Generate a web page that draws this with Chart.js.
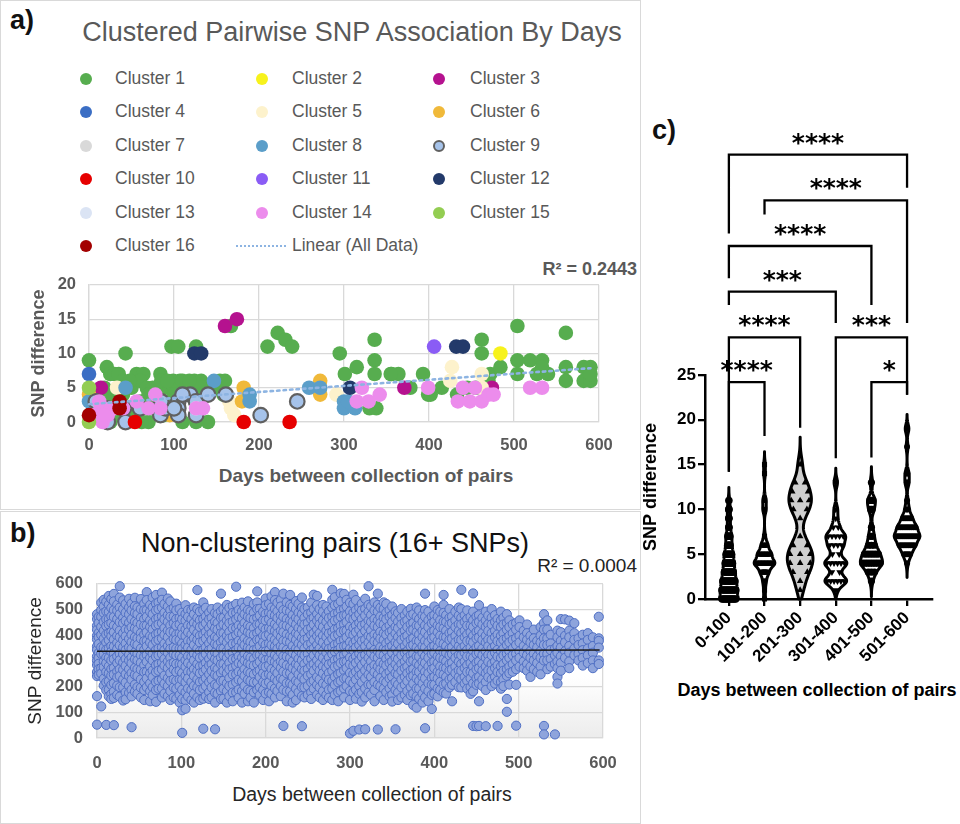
<!DOCTYPE html>
<html><head><meta charset="utf-8">
<script src="https://cdn.jsdelivr.net/npm/chart.js@4.4.1/dist/chart.umd.min.js"></script>
<style>
html,body{margin:0;padding:0;background:#fff}
body{position:relative;width:960px;height:824px;overflow:hidden;font-family:'Liberation Sans',Arial,sans-serif}
.t{position:absolute;white-space:nowrap;line-height:1}
.c{transform:translate(-50%,-50%)}
canvas{position:absolute}
.box{position:absolute;border:1px solid #d9d9d9;box-sizing:border-box}
.lm{position:absolute;width:12px;height:12px;border-radius:50%;box-sizing:border-box;transform:translate(-50%,-50%)}
</style></head><body>
<div class="box" style="left:0;top:0;width:641px;height:510px"></div>
<div class="box" style="left:0;top:511px;width:641px;height:313px"></div>
<div class="t" style="left:10px;top:7px;font-weight:bold;font-size:27px;color:#111">a)</div>
<div class="t c" style="left:352px;top:32px;font-size:27px;color:#595959">Clustered Pairwise SNP Association By Days</div>
<div id="legendA"></div>
<div class="t" style="left:637px;top:260px;font-size:18px;font-weight:bold;color:#595959;transform:translateX(-100%)">R² = 0.2443</div>
<div class="t c" style="left:366px;top:475px;font-size:19px;font-weight:bold;color:#595959">Days between collection of pairs</div>
<div class="t" style="left:10px;top:520px;font-weight:bold;font-size:27px;color:#111">b)</div>
<div class="t c" style="left:335px;top:543px;font-size:27px;color:#111">Non-clustering pairs (16+ SNPs)</div>
<div class="t" style="left:637px;top:556px;font-size:19px;color:#222;transform:translateX(-100%)">R² = 0.0004</div>
<div class="t c" style="left:372px;top:795px;font-size:19.5px;color:#262626">Days between collection of pairs</div>
<div class="t" style="left:652px;top:117px;font-weight:bold;font-size:27px;color:#111">c)</div>
<div class="t c" style="left:817px;top:690px;font-size:18px;font-weight:bold;color:#000">Days between collection of pairs</div>
<canvas id="chartA" width="640" height="225" style="left:0;top:262px"></canvas>
<canvas id="chartB" width="640" height="248" style="left:0;top:560px"></canvas>
<canvas id="chartC" width="320" height="602" style="left:640px;top:100px"></canvas>
<script>
// ---------- Panel a data ----------
const clusterNames = ['Cluster 1','Cluster 2','Cluster 3','Cluster 4','Cluster 5','Cluster 6','Cluster 7','Cluster 8','Cluster 9','Cluster 10','Cluster 11','Cluster 12','Cluster 13','Cluster 14','Cluster 15','Cluster 16'];
const clusterColors = ['#57ad4f','#f7f21c','#b5128f','#3b6ec4','#fdf2cc','#f0b93a','#d9d9d9','#5b9ec9','#a6c3ea','#e60000','#8a5cf5','#233a6a','#dbe4f4','#ec8cec','#93cd52','#a30000'];
const clusterPoints = [
 [[0,9],[21,8],[25,7],[30,7],[35,7],[43,10],[56,7],[64,7],[84,7],[97,11],[105,11],[126,11],[99,6],[107,6],[124,6],[132,6],[154,6],[167,14],[210,11],[222,13],[231,12],[239,11],[295,10],[301,7],[315,8],[336,12],[336,9],[336,7],[356,7],[364,7],[378,5],[393,7],[399,4],[415,5],[462,12],[462,10],[472,7],[484,8],[504,14],[504,9],[519,9],[533,9],[504,7],[527,7],[540,7],[533,8],[561,13],[561,8],[561,6],[582,8],[590,8],[582,6],[590,6],[590,7],[330,2],[338,2],[126,0],[70,0],[433,4],[445,5],[10,4],[18,5],[28,4],[40,4],[50,5],[60,6],[68,5],[75,5],[90,5],[100,5],[112,5],[120,5],[135,5],[145,5],[150,5],[158,4],[5,2],[15,1],[25,0],[35,1],[45,0],[55,1],[62,0],[75,2],[88,1],[95,3],[110,0],[115,4],[130,4],[140,0],[60,3],[50,2],[30,3],[70,4],[80,3],[100,4],[160,6],[128,5],[122,4],[85,6],[92,6],[110,6],[118,6],[40,6],[48,6],[65,2],[20,3],[455,5],[470,6],[402,4],[355,7]],
 [[484,10]],
 [[14,5],[160,14],[174,15],[371,5],[474,5]],
 [[0,7]],
 [[33,5],[167,2],[171,1],[165,3],[291,4],[425,6],[427,8],[462,7],[462,5]],
 [[0,4],[95,1],[182,5],[180,3],[272,6],[272,4]],
 [[21,2],[105,2]],
 [[0,3],[43,5],[147,6],[189,4],[189,3],[259,5],[272,5],[300,3],[300,2],[313,2],[305,3]],
 [[8,3],[21,2],[41,2],[43,0],[84,1],[105,3],[105,2],[105,1],[119,4],[126,3],[140,4],[161,4],[202,1],[245,3],[126,1],[22,0],[60,2],[90,2],[100,2],[110,4],[85,3]],
 [[54,0],[182,0],[236,0]],
 [[406,11]],
 [[124,10],[132,10],[307,5],[432,11],[440,11]],
 [[14,2],[126,2]],
 [[14,2],[16,0],[22,1],[10,1],[30,2],[56,3],[70,2],[78,4],[84,2],[126,2],[134,2],[321,5],[342,4],[315,3],[329,3],[399,5],[440,5],[454,5],[434,3],[448,3],[462,3],[470,4],[476,4],[519,5],[533,5],[6,1],[12,3],[26,2],[18,1],[40,2]],
 [[0,5],[0,0]],
 [[0,1],[36,3],[36,2]]
];
const trendA = {intercept:2.6, slope:0.0089, fromDay:0, toDay:590};
const xTicksA = [0,100,200,300,400,500,600];
const yTicksA = [0,5,10,15,20];

// ---------- Panel b data ----------
const ncDays = [0,2,5,8,11,14,17,20,24,27,31,34,38,41,45,48,52,56,59,63,66,70,73,77,80,84,87,91,94,98,101,105,108,112,115,119,122,126,129,133,136,140,143,147,150,154,157,161,165,168,172,175,179,182,186,190,193,197,200,204,207,211,214,218,221,225,229,232,236,239,243,246,250,254,257,261,264,268,272,275,279,282,286,289,293,296,300,304,307,311,314,318,322,325,329,333,336,340,343,347,350,354,357,361,365,368,372,375,379,382,386,389,393,397,400,404,407,411,414,418,421,425,429,432,436,439,443,446,450,453,457,461,464,468,472,475,479,482,486,489,493,497,501,506,510,514,518,522,526,530,534,538,543,546,550,555,560,566,571,576,582,588,595];
const ncSNPs = [
[482,463,437,421,398,384,357,343,318,301,284,257,241,163,52],
[471,448,409,392,366,331,312,289,268,246],
[527,498,472,433,401,353,328,272,251,123],
[538,512,487,452,418,387,352,327,298,276,231,204],
[531,493,462,436,403,372,344,313,292,258,217,186,51],
[553,519,491,463,442,408,381,349,312,279,252,221,188,162],
[541,507,474,447,413,396,358,336,302,268,243,207,171,152],
[561,532,498,471,438,412,383,356,329,307,273,247,213,181,156,50],
[519,496,463,432,398,371,347,318,292,259,236,204,168],
[591,547,508,482,451,418,392,361,328,303,268,241,198,161],
[536,502,468,447,408,382,353,327,294,266,228,197,146],
[522,488,457,423,396,368,342,308,281,249,216,178,151],
[542,508,481,449,422,386,353,324,302,268,241,203,176],
[524,497,463,431,402,373,347,313,291,253,227,188,162,42],
[546,513,487,453,427,393,367,333,307,273,246,208,181],
[508,482,448,421,388,362,328,302,268,241,198,172],
[541,502,468,442,408,387,348,322,293,266,228,196,158],
[523,497,463,437,403,377,343,317,283,257,218,187,148],
[568,537,498,472,438,412,378,357,323,297,258,232,198],
[518,492,458,432,398,372,338,312,278,252,213,182,143],
[547,508,482,448,422,393,362,328,302,263,237,198,167],
[557,523,497,463,437,403,377,343,317,283,257,218,187,141],
[528,502,468,442,408,382,348,322,288,262,223,192],
[566,538,507,473,447,413,387,353,327,293,267,228,193,158],
[522,488,462,428,402,368,342,308,282,243,212,173],
[543,512,478,452,418,392,358,332,298,272,233,202,163],
[532,498,472,438,412,373,347,313,287,253,222,183,148],
[507,473,447,413,387,353,327,293,267,228,197,158],
[523,497,463,437,403,382,348,322,288,257,223,192,153],
[502,468,442,408,382,348,322,288,262,228,202,168,138],
[488,462,428,402,368,347,313,287,253,227,188,152,108,20],
[517,483,457,423,397,363,337,303,277,243,217,178,147,114],
[498,472,438,412,378,352,318,292,258,232,193,162],
[497,463,437,403,377,343,317,283,257,218,187,148],
[508,482,448,422,388,362,328,302,268,242,203,172,138],
[576,502,468,442,408,382,348,322,288,262,228,197,158],
[492,458,432,398,372,338,312,278,252,218,187,148],
[528,497,463,437,403,377,343,317,283,257,223,192,153,36],
[507,473,447,413,387,353,327,293,267,233,202,163],
[488,462,428,402,368,342,308,282,248,217,178,152],
[502,468,442,408,382,348,322,288,262,228,197,158],
[487,453,427,393,367,333,307,273,247,208,177,138,34],
[508,482,448,422,388,362,328,302,268,242,203,172],
[562,493,467,433,407,373,347,313,287,253,222,183,152],
[502,468,442,408,382,348,322,288,262,223,192,153],
[518,492,458,432,398,372,338,312,278,252,213,182,138],
[507,473,447,413,387,353,327,293,267,233,202,163],
[513,487,453,427,393,367,333,307,273,247,208,177,143],
[589,522,488,462,428,402,368,342,308,282,248,217,178],
[498,472,438,412,378,352,318,292,258,227,188,157],
[527,493,467,433,407,373,347,313,287,253,222,183,138],
[508,482,448,422,388,362,328,302,268,242,203,172],
[532,498,472,438,412,378,352,318,292,258,227,188,143],
[493,467,433,407,373,347,313,287,253,222,183,157],
[522,488,462,428,402,368,342,308,282,248,217,178,138],
[571,528,502,468,442,408,382,348,322,288,257,218,187],
[503,477,443,417,383,357,323,297,263,237,198,167],
[492,458,432,398,372,338,312,278,252,218,187,148],
[543,517,483,457,423,397,363,337,303,277,243,212,173],
[522,488,462,428,402,368,342,308,282,248,217,178,143],
[552,508,482,448,422,388,362,328,302,268,242,203,172],
[568,537,503,477,443,417,383,357,323,297,263,232,193,158],
[527,493,467,433,407,373,347,313,287,253,222,183],
[538,512,478,452,418,392,358,332,298,272,233,202,163],
[562,498,472,438,412,378,352,318,292,258,227,188,47],
[528,497,463,437,403,377,343,317,283,252,213,182,143],
[557,518,492,458,432,398,372,338,312,278,252,213,182],
[512,478,452,418,392,358,332,298,272,238,207,168,138],
[533,502,468,442,408,382,348,322,288,262,223,192,148],
[522,488,462,428,402,368,342,308,282,248,217,178],
[547,508,482,448,422,388,362,328,302,268,237,198,163,46],
[502,468,442,408,382,348,322,288,262,228,197,158],
[508,482,448,422,388,362,328,302,268,242,203,168],
[527,488,462,428,402,368,342,308,282,248,217,178,152],
[558,502,468,442,408,382,348,322,288,262,223,192],
[553,517,483,457,423,397,363,337,303,277,238,207,168],
[502,468,442,408,382,348,322,288,262,228,197,158],
[518,492,458,432,398,372,338,312,278,252,213,182,148],
[512,478,452,418,392,358,332,298,272,238,207,168],
[493,467,433,407,373,347,313,287,253,227,188,157],
[577,538,507,473,447,413,387,353,327,293,262,223,192,148],
[548,517,483,457,423,397,363,337,303,277,238,207,168],
[522,488,462,428,402,368,342,308,282,248,217,178,143],
[563,532,498,472,438,412,378,352,318,292,253,222,183],
[561,503,477,443,417,383,357,323,297,263,232,193,158],
[538,512,478,452,418,392,358,332,298,272,233,202],
[527,493,467,433,407,373,347,313,287,253,222,183,148,18],
[558,522,488,462,428,402,368,342,308,282,248,213,178,28],
[537,498,472,438,412,378,352,318,292,258,227,188,153],
[508,482,448,422,388,362,328,302,268,242,203,172,33],
[523,497,463,437,403,377,343,317,283,248,217,178,142],
[542,503,477,443,417,383,357,323,297,263,232,193,158,34],
[591,518,492,458,432,398,372,338,312,278,247,208,177],
[512,478,452,418,392,358,332,298,272,238,207,168],
[528,497,463,437,403,377,343,317,283,257,218,187,143],
[562,518,492,458,432,398,372,338,312,278,247,208,33],
[507,473,447,413,387,353,327,293,267,233,202,163],
[528,502,468,442,408,382,348,322,288,262,223,192,148],
[522,488,462,428,402,368,342,308,282,248,217,178],
[498,472,438,412,378,352,318,292,258,232,193,162],
[512,478,452,418,392,358,332,298,272,238,207,168,142],
[493,467,433,407,373,347,313,287,253,218,187,34],
[487,453,427,393,367,333,307,273,247,208,177,148],
[502,468,442,408,382,348,322,288,262,228,197,158],
[478,452,418,392,358,332,298,272,238,207,168],
[492,458,432,398,372,338,312,278,252,222,183,148],
[503,477,443,417,383,357,323,297,263,237,198,167],
[482,448,422,388,362,328,302,268,242,212,173,128],
[508,472,438,412,378,352,318,292,258,232,193,162,118],
[497,463,437,403,377,343,317,283,257,223,192,153],
[478,452,418,392,358,332,298,272,238,212,173,138],
[562,498,472,438,412,378,352,318,292,258,232,193,158,38],
[492,458,432,398,372,338,312,278,252,213,182,143],
[473,447,413,387,353,327,293,267,233,207,168,113],
[512,478,452,418,392,358,332,298,272,238,207,172],
[498,472,438,412,378,352,318,292,258,232,193,162],
[492,458,432,398,372,338,312,278,252,218,187],
[557,518,487,453,427,393,367,333,307,273,247,208,177],
[478,452,418,392,358,332,298,272,238,212,173],
[502,468,442,408,382,348,322,288,262,228,197],
[473,447,413,387,353,327,293,267,233,207,143],
[492,458,432,398,372,338,312,278,252,218],
[508,477,443,417,383,357,323,297,263,237,198],
[577,502,468,442,408,382,348,322,288,262,228,197],
[478,452,418,392,358,332,298,272,238,212],
[497,463,437,403,377,343,317,283,257,223,192],
[472,438,412,378,352,318,292,258,232,198,172],
[563,492,458,432,398,372,338,312,278,252,213,182,47],
[473,447,413,387,353,327,293,267,233,207,46],
[517,478,452,418,392,358,332,298,272,238,212,143,47],
[468,442,408,382,348,322,288,262,228,202],
[492,458,432,398,372,338,312,278,252,218,187,46],
[477,443,417,383,357,323,297,263,237],
[502,468,442,408,382,348,322,288,262,228,202],
[478,452,418,392,358,332,298,272,238,212],
[463,437,403,377,343,317,283,257,223,47],
[492,458,432,398,372,338,312,278,252,218,192],
[468,442,408,382,348,322,288,262,228,202],
[482,448,422,388,362,328,302,268,242,152,102],
[458,432,398,372,338,312,278,252,208],
[442,408,382,348,322,288,258],
[448,422,388,362,328,302,268,207,48],
[458,432,398,372,338,312,278],
[418,392,358,332,298,272],
[442,408,382,348,322,288,262],
[398,372,338,312,278,238],
[422,388,362,328,302,268],
[378,352,318,292,258],
[432,398,372,338,312,278,248],
[482,448,422,388,362,328,302,47,14],
[458,422,388,362,328,302,268],
[402,368,342,308,278],
[348,322,288,14],
[418,392,358,332,298,272,238,212],
[463,412,378,352,318,292,262],
[462,398,372,338,312],
[457,418,392,358,332,298,272],
[447,408,382,348,322],
[388,362,328,302],
[402,368,342,312,282],
[408,382,348,322,292],
[392,358,332,302,272],
[472,388,378,352,302,288]
];
const trendB = {intercept:338, slope:0.0084, fromDay:0, toDay:596};
const xTicksB = [0,100,200,300,400,500,600];
const yTicksB = [0,100,200,300,400,500,600];

// ---------- Panel c data ----------
const dayGroups = ['0-100','101-200','201-300','301-400','401-500','501-600'];
const snp0_100   = [0,0,0,0,0,0,0,0,0,0,0,0,1,1,1,1,1,1,1,1,1,1,1,2,2,2,2,2,2,2,2,2,2,3,3,3,3,3,3,3,3,4,4,4,4,4,4,4,5,5,5,5,5,5,6,6,6,6,7,7,7,7,8,8,9,9,10,10,11];
const snp101_200 = [0,1,2,2,3,3,3,3,3,4,4,4,4,4,4,4,4,4,4,4,4,5,5,5,5,5,5,5,5,6,6,6,6,7,10,10,11,11,14,15];
const snp201_300 = [1,2,3,3,4,4,4,5,5,5,6,6,7,9,10,10,11,11,11,12,12,13,13,15];
const snp301_400 = [1,2,2,2,2,2,2,3,3,4,4,4,4,4,4,5,5,6,6,6,6,7,7,7,7,7,8,8,9,10,13];
const snp401_500 = [2,3,3,3,4,4,4,4,4,4,4,4,5,5,5,5,5,5,6,6,6,7,7,8,10,10,11,11,11,13];
const snp501_600 = [4,5,5,5,5,6,6,6,6,6,6,6,6,7,7,7,7,7,7,7,7,7,7,7,7,8,8,8,8,8,8,8,8,8,9,9,9,9,9,10,10,11,13,13,14,14,17,19,19];
const groupValues = [snp0_100, snp101_200, snp201_300, snp301_400, snp401_500, snp501_600];
const yTicksC = [0,5,10,15,20,25];
const comparisons = [
 {from:0,to:5,stars:'****'},
 {from:1,to:5,stars:'****'},
 {from:0,to:4,stars:'****'},
 {from:0,to:3,stars:'***'},
 {from:0,to:2,stars:'****'},
 {from:3,to:5,stars:'***'},
 {from:0,to:1,stars:'****'},
 {from:4,to:5,stars:'*'}
];

// ---------- layout / style (not data) ----------
const bracketLayout = [[49.6,40.8,45.9],[44.5,42.9,30.8],[39.4,35.8,32.8],[34.3,32.8,30.8],[29.2,14.2,19.1],[29.2,15.7,22.8],[24.2,14.2,18.2],[24.2,15.8,22.8]];
const violinBandwidth = [0.45,0.45,0.95,0.5,0.55,0.5];
const violinHalf = [0.26,0.29,0.36,0.31,0.31,0.36];
const violinFill = ['#ffffff','#ffffff','#cfcfcf','#ffffff','#ffffff','#ffffff'];
const violinMarker = [['circle',3.8,0],['rect',3.6,0],['triangle',3.8,0],['triangle',3.8,180],['circle',3.6,0],['circle',3.0,0]];

Chart.defaults.font.family = "'Liberation Sans', Arial, sans-serif";
Chart.defaults.animation = false;

// legend (panel a)
(function(){
  const L = document.getElementById('legendA');
  const mx = [86,262,439], tx = [115,292,470];
  clusterNames.forEach((n,i)=>{
    const r = Math.floor(i/3), c = i%3, y = 79 + r*33.4;
    const m = document.createElement('div'); m.className='lm';
    m.style.left = mx[c]+'px'; m.style.top = y+'px'; m.style.background = clusterColors[i];
    if (i===8) m.style.border = '2px solid #606060';
    L.appendChild(m);
    const t = document.createElement('div'); t.className='t';
    t.style.cssText = 'left:'+tx[c]+'px;top:'+y+'px;transform:translateY(-50%);font-size:17.5px;color:#595959';
    t.textContent = n; L.appendChild(t);
  });
  const y = 79 + 5*33.4;
  const ln = document.createElement('div');
  ln.style.cssText = 'position:absolute;left:236px;top:'+(y-1)+'px;width:50px;border-top:2.5px dotted #8db4e2';
  L.appendChild(ln);
  const t = document.createElement('div'); t.className='t';
  t.style.cssText = 'left:292px;top:'+y+'px;transform:translateY(-50%);font-size:17.5px;color:#595959';
  t.textContent = 'Linear (All Data)'; L.appendChild(t);
})();

// ---------- Chart A ----------
const dsA = clusterPoints.map((pts,i)=>({
  label: clusterNames[i],
  data: pts.map(p=>({x:p[0],y:p[1]})),
  backgroundColor: clusterColors[i],
  borderColor: i===8 ? '#606060' : clusterColors[i],
  borderWidth: i===8 ? 2.2 : 0,
  pointRadius: 7.3, pointHoverRadius: 7.3,
  clip: false,
  order: 16 - i
}));
dsA.push({
  type:'line', label:'Linear (All Data)',
  data:[{x:trendA.fromDay,y:trendA.intercept+trendA.slope*trendA.fromDay},{x:trendA.toDay,y:trendA.intercept+trendA.slope*trendA.toDay}],
  borderColor:'#8db4e2', borderWidth:2.6, borderDash:[2.5,4], borderCapStyle:'round', pointRadius:0, order:-1, clip:false
});
new Chart(document.getElementById('chartA'), {
  type:'scatter',
  data:{datasets:dsA},
  options:{
    responsive:false,
    layout:{padding:{left:28,right:41,top:20,bottom:0}},
    plugins:{legend:{display:false},tooltip:{enabled:false}},
    scales:{
      x:{type:'linear',min:0,max:600,
         afterBuildTicks:s=>{s.ticks=xTicksA.map(v=>({value:v}));},
         grid:{color:'#d9d9d9',lineWidth:1.3,drawTicks:false},
         border:{color:'#d9d9d9',width:1.3},
         ticks:{padding:14,color:'#595959',font:{size:16.5,weight:'bold'}},
         afterFit:s=>{s.height=65;}},
      y:{type:'linear',min:0,max:20,
         afterBuildTicks:s=>{s.ticks=yTicksA.map(v=>({value:v}));},
         grid:{color:'#d9d9d9',lineWidth:1.3,drawTicks:false},
         border:{color:'#d9d9d9',width:1.3},
         ticks:{padding:13,color:'#595959',font:{size:16.5,weight:'bold'}},
         title:{display:true,text:'SNP difference',color:'#595959',font:{size:18,weight:'bold'},padding:0},
         afterFit:s=>{s.width=61;}}
    }
  }
});

// ---------- Chart B ----------
const ncPoints = [];
ncDays.forEach((d,i)=>ncSNPs[i].forEach(v=>ncPoints.push({x:d,y:v})));
const bgPlugin = {
  id:'bgGrad',
  beforeDraw(chart){
    const {ctx, chartArea:a} = chart;
    const g = ctx.createLinearGradient(0,a.top,0,a.bottom);
    g.addColorStop(0,'#ffffff'); g.addColorStop(0.6,'#ffffff'); g.addColorStop(1,'#ececec');
    ctx.save(); ctx.fillStyle=g; ctx.fillRect(a.left,a.top,a.right-a.left,a.bottom-a.top); ctx.restore();
  }
};
new Chart(document.getElementById('chartB'), {
  type:'scatter',
  data:{datasets:[
    {type:'line',data:[{x:trendB.fromDay,y:trendB.intercept+trendB.slope*trendB.fromDay},{x:trendB.toDay,y:trendB.intercept+trendB.slope*trendB.toDay}],
     borderColor:'#1a1a1a',borderWidth:1.5,pointRadius:0,order:0},
    {data:ncPoints,backgroundColor:'#8ea4dc',borderColor:'#4f6fc4',borderWidth:1,pointRadius:4.6,pointHoverRadius:4.6,clip:false,order:1}
  ]},
  options:{
    responsive:false,
    layout:{padding:{left:24,right:37,top:23,bottom:0}},
    plugins:{legend:{display:false},tooltip:{enabled:false}},
    scales:{
      x:{type:'linear',min:0,max:600,
         afterBuildTicks:s=>{s.ticks=xTicksB.map(v=>({value:v}));},
         grid:{color:'#d9d9d9',lineWidth:1.3,drawTicks:false},
         border:{color:'#d9d9d9',width:1.3},
         ticks:{padding:16,color:'#595959',font:{size:16.5,weight:'bold'}},
         afterFit:s=>{s.height=70;}},
      y:{type:'linear',min:0,max:600,
         afterBuildTicks:s=>{s.ticks=yTicksB.map(v=>({value:v}));},
         grid:{color:'#d9d9d9',lineWidth:1.3,drawTicks:false},
         border:{color:'#d9d9d9',width:1.3},
         ticks:{padding:14,color:'#595959',font:{size:16.5,weight:'bold'}},
         title:{display:true,text:'SNP difference',color:'#262626',font:{size:19},padding:0},
         afterFit:s=>{s.width=73;}}
    }
  },
  plugins:[bgPlugin]
});

// ---------- Chart C ----------
function kde(vals,h,y){let s=0;for(const v of vals){const z=(y-v)/h;s+=Math.exp(-0.5*z*z);}return s;}
function violinProfile(gi){
  const vals=groupValues[gi], h=violinBandwidth[gi];
  const lo=Math.max(0,Math.min(...vals)-3.2*h), hi=Math.max(...vals)+3.2*h;
  const N=220, prof=[]; let maxD=0;
  for(let i=0;i<=N;i++){const y=lo+(hi-lo)*i/N; const d=kde(vals,h,y); prof.push({y,d}); if(d>maxD)maxD=d;}
  prof.forEach(p=>p.w=violinHalf[gi]*p.d/maxD);
  return {prof,maxD};
}
const profiles = groupValues.map((v,i)=>violinProfile(i));
const dsC = groupValues.map((vals,gi)=>{
  const counts={}; vals.forEach(v=>counts[v]=(counts[v]||0)+1);
  const rUnits = violinMarker[gi][1]/35.6;
  const pts=[];
  Object.keys(counts).forEach(k=>{
    const v=+k, n=counts[k];
    let w = violinHalf[gi]*kde(vals,violinBandwidth[gi],v)/profiles[gi].maxD - rUnits*0.6;
    if (w<0) w=0;
    for(let j=0;j<n;j++){ pts.push({x: gi + (n===1?0:(-w + 2*w*j/(n-1))), y:v}); }
  });
  return {data:pts, pointStyle:violinMarker[gi][0], pointRadius:violinMarker[gi][1], pointHoverRadius:violinMarker[gi][1],
          rotation:violinMarker[gi][2], backgroundColor:'#000', borderColor:'#000', borderWidth:0, clip:false};
});
const violinPlugin = {
  id:'violins',
  beforeDatasetsDraw(chart){
    const ctx=chart.ctx, xs=chart.scales.x, ys=chart.scales.y;
    ctx.save();
    profiles.forEach((pr,gi)=>{
      const p=pr.prof;
      ctx.beginPath();
      p.forEach((q,i)=>{const px=xs.getPixelForValue(gi+q.w), py=ys.getPixelForValue(q.y); if(i) ctx.lineTo(px,py); else ctx.moveTo(px,py);});
      for(let i=p.length-1;i>=0;i--){ctx.lineTo(xs.getPixelForValue(gi-p[i].w), ys.getPixelForValue(p[i].y));}
      ctx.closePath();
      ctx.fillStyle=violinFill[gi]; ctx.fill();
      ctx.lineWidth=3; ctx.lineJoin='round'; ctx.strokeStyle='#000'; ctx.stroke();
    });
    ctx.restore();
  },
  afterDraw(chart){
    const ctx=chart.ctx, xs=chart.scales.x, ys=chart.scales.y;
    ctx.save();
    ctx.strokeStyle='#000'; ctx.fillStyle='#000'; ctx.lineWidth=2.3; ctx.lineCap='butt'; ctx.lineJoin='miter';
    ctx.font='bold 25px "DejaVu Sans"'; ctx.textAlign='center'; ctx.textBaseline='alphabetic';
    comparisons.forEach((c,i)=>{
      const [lvl,la,lb]=bracketLayout[i];
      const x1=xs.getPixelForValue(c.from), x2=xs.getPixelForValue(c.to), y=ys.getPixelForValue(lvl);
      ctx.beginPath(); ctx.moveTo(x1,ys.getPixelForValue(la)); ctx.lineTo(x1,y); ctx.lineTo(x2,y); ctx.lineTo(x2,ys.getPixelForValue(lb)); ctx.stroke();
      const m=ctx.measureText(c.stars);
      const cy=y-16;
      ctx.fillText(c.stars,(x1+x2)/2, cy+(m.actualBoundingBoxAscent-m.actualBoundingBoxDescent)/2);
    });
    ctx.restore();
  }
};
new Chart(document.getElementById('chartC'), {
  type:'scatter',
  data:{datasets:dsC},
  options:{
    responsive:false,
    layout:{padding:{left:0,right:28,top:275,bottom:0}},
    plugins:{legend:{display:false},tooltip:{enabled:false}},
    scales:{
      x:{type:'linear',min:-0.67,max:5.7,
         afterBuildTicks:s=>{s.ticks=dayGroups.map((g,i)=>({value:i}));},
         grid:{drawOnChartArea:false,drawTicks:true,tickLength:7,color:'#000',lineWidth:2.3},
         border:{display:true,color:'#000',width:2.5},
         ticks:{autoSkip:false,minRotation:45,maxRotation:45,padding:2,color:'#000',font:{size:17,weight:'bold'},callback:(v)=>dayGroups[v]},
         afterFit:s=>{s.height=103;}},
      y:{type:'linear',min:0,max:25,
         afterBuildTicks:s=>{s.ticks=yTicksC.map(v=>({value:v}));},
         grid:{drawOnChartArea:false,drawTicks:true,tickLength:7,color:'#000',lineWidth:2.3},
         border:{display:true,color:'#000',width:2.5},
         ticks:{padding:2,color:'#000',font:{size:17,weight:'bold'}},
         title:{display:true,text:'SNP difference',color:'#000',font:{size:18,weight:'bold'},padding:0},
         afterFit:s=>{s.width=65;}}
    }
  },
  plugins:[violinPlugin]
});
</script>
</body></html>
